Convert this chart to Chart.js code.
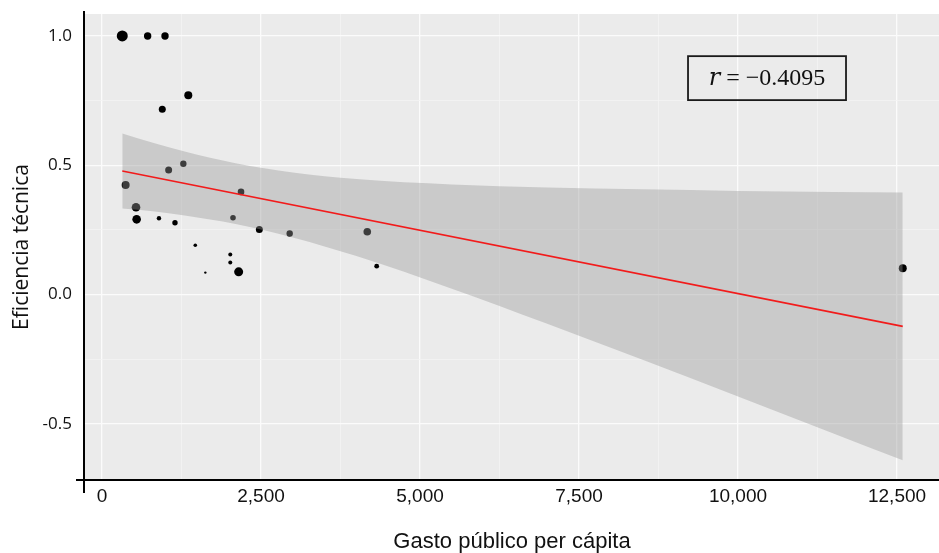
<!DOCTYPE html>
<html lang="es">
<head>
    <meta charset="UTF-8">
    <title>Eficiencia técnica vs gasto público</title>
    <script src="https://cdn.jsdelivr.net/npm/chart.js"></script>
    <style>
        html, body { margin: 0; padding: 0; background: #ffffff; overflow: hidden; }
        #wrap { width: 939px; height: 553px; }
        canvas { display: block; }
    </style>
</head>
<body>
<div id="wrap"><canvas id="eficienciaChart" width="939" height="553"></canvas></div>

<script>
    // Municipios: gasto per cápita, eficiencia técnica y tamaño del punto
    const gasto = [319, 718, 991, 1357, 948, 1279, 1048, 372, 535, 545, 896, 1148,
                   2060, 2186, 2474, 2951, 4171, 4319, 1467, 2017, 2017, 2149, 1625, 12590];
    const eficiencia = [1.000, 1.000, 1.000, 0.771, 0.717, 0.506, 0.482, 0.424, 0.338, 0.291, 0.295, 0.278,
                        0.297, 0.397, 0.252, 0.236, 0.243, 0.110, 0.191, 0.155, 0.124, 0.088, 0.085, 0.102];
    const tamano = [5.5, 3.7, 3.7, 4.0, 3.5, 3.2, 3.5, 4.0, 4.3, 4.3, 2.2, 2.7,
                    2.8, 3.3, 3.5, 3.2, 3.8, 2.4, 1.8, 2.0, 2.0, 4.5, 1.2, 4.0];

    // Recta de regresión (extremos) y banda de confianza
    const ajusteX = [319, 12590];
    const ajusteY = [0.478, -0.123];
    const bandaX = [319, 800, 1300, 2100, 3000, 4000, 5500, 7000, 8500, 10000, 11500, 12590];
    const bandaSup = [0.623, 0.587, 0.553, 0.508, 0.472, 0.447, 0.426, 0.414, 0.407, 0.401, 0.397, 0.395];
    const bandaInf = [0.333, 0.322, 0.306, 0.273, 0.221, 0.149, 0.023, -0.113, -0.252, -0.394, -0.537, -0.641];

    const etiquetaR = 'r = \u22120.4095';

    const xTicks = [0, 2500, 5000, 7500, 10000, 12500];
    const yTicks = [-0.5, 0.0, 0.5, 1.0];

    const toXY = (xs, ys) => xs.map((x, i) => ({ x: x, y: ys[i] }));

    const isMajor = (v, step) => Math.abs(v / step - Math.round(v / step)) < 1e-6;

    // fondo gris del panel
    const panelBg = {
        id: 'panelBg',
        beforeDraw(chart) {
            const { ctx, chartArea: a } = chart;
            ctx.save();
            ctx.fillStyle = '#ebebeb';
            ctx.fillRect(a.left, a.top, a.right - a.left, a.bottom - a.top);
            ctx.restore();
        }
    };

    // ejes negros cruzados y recuadro con el coeficiente
    const extras = {
        id: 'extras',
        afterDraw(chart) {
            const { ctx, chartArea: a, scales } = chart;
            ctx.save();
            ctx.strokeStyle = '#000';
            ctx.lineWidth = 2;
            ctx.beginPath();
            ctx.moveTo(a.left - 1, a.top - 3);
            ctx.lineTo(a.left - 1, a.bottom + 13);
            ctx.moveTo(a.left - 9, a.bottom);
            ctx.lineTo(a.right, a.bottom);
            ctx.stroke();

            const x0 = scales.x.getPixelForValue(9214);
            const x1 = scales.x.getPixelForValue(11698);
            const y0 = scales.y.getPixelForValue(0.922);
            const y1 = scales.y.getPixelForValue(0.752);
            ctx.lineWidth = 1.8;
            ctx.strokeStyle = '#1a1a1a';
            ctx.strokeRect(x0, y0, x1 - x0, y1 - y0);

            const partes = etiquetaR.split(' ');
            ctx.fillStyle = '#111';
            ctx.textBaseline = 'middle';
            const fItal = 'italic 24px "DejaVu Serif", "Liberation Serif", serif';
            const fReg = '24px "Liberation Serif", "DejaVu Serif", serif';
            ctx.font = fItal;
            const wR = ctx.measureText(partes[0]).width;
            ctx.font = fReg;
            const resto = ' ' + partes.slice(1).join(' ');
            const wResto = ctx.measureText(resto).width;
            let tx = (x0 + x1) / 2 - (wR + wResto) / 2;
            const ty = (y0 + y1) / 2 + 1;
            ctx.font = fItal;
            ctx.fillText(partes[0], tx, ty);
            ctx.font = fReg;
            ctx.fillText(resto, tx + wR, ty);
            ctx.restore();
        }
    };

    const ctx = document.getElementById('eficienciaChart').getContext('2d');
    const eficienciaChart = new Chart(ctx, {
        type: 'scatter',
        data: {
            datasets: [
                {
                    type: 'line',
                    label: 'ajuste',
                    data: toXY(ajusteX, ajusteY),
                    borderColor: '#f21b1b',
                    borderWidth: 1.6,
                    pointRadius: 0,
                    fill: false,
                    order: 0
                },
                {
                    type: 'line',
                    label: 'banda superior',
                    data: toXY(bandaX, bandaSup),
                    borderWidth: 0,
                    pointRadius: 0,
                    cubicInterpolationMode: 'monotone',
                    backgroundColor: 'rgba(153, 153, 153, 0.4)',
                    fill: '+1',
                    order: 1
                },
                {
                    type: 'line',
                    label: 'banda inferior',
                    data: toXY(bandaX, bandaInf),
                    borderWidth: 0,
                    pointRadius: 0,
                    cubicInterpolationMode: 'monotone',
                    fill: false,
                    order: 2
                },
                {
                    label: 'municipios',
                    data: toXY(gasto, eficiencia),
                    pointRadius: tamano,
                    pointBackgroundColor: '#000',
                    pointBorderWidth: 0,
                    order: 3
                }
            ]
        },
        options: {
            responsive: false,
            animation: false,
            layout: { autoPadding: false, padding: { top: 14, right: 0, bottom: 0, left: 0 } },
            plugins: {
                legend: { display: false },
                tooltip: { enabled: false }
            },
            scales: {
                x: {
                    type: 'linear',
                    min: -267,
                    max: 13160,
                    afterBuildTicks(scale) {
                        scale.ticks = [];
                        for (let v = 0; v <= 12500; v += 1250) scale.ticks.push({ value: v });
                    },
                    afterFit(scale) {
                        scale.height = 73;
                        scale.paddingLeft = 0;
                        scale.paddingRight = 0;
                    },
                    border: { display: false },
                    grid: {
                        drawTicks: false,
                        color: ctx => isMajor(ctx.tick.value, 2500) ? '#fbfbfb' : '#f4f4f4',
                        lineWidth: ctx => isMajor(ctx.tick.value, 2500) ? 1.3 : 0.8
                    },
                    ticks: {
                        padding: 5,
                        color: '#111',
                        maxRotation: 0,
                        autoSkip: false,
                        font: { family: '"Liberation Sans Narrow", "Arial Narrow", "Liberation Sans", sans-serif', size: 19 },
                        callback: v => xTicks.includes(v) ? v.toLocaleString('en-US') : ''
                    },
                    title: {
                        display: true,
                        text: 'Gasto público per cápita',
                        color: '#111',
                        padding: { top: 0, bottom: 0 },
                        font: { family: '"Liberation Sans Narrow", "Arial Narrow", "Liberation Sans", sans-serif', size: 22, lineHeight: 1 }
                    }
                },
                y: {
                    min: -0.717,
                    max: 1.085,
                    afterBuildTicks(scale) {
                        scale.ticks = [];
                        for (let v = -0.5; v <= 1.0001; v += 0.25) scale.ticks.push({ value: Math.round(v * 100) / 100 });
                    },
                    afterFit(scale) {
                        scale.width = 85;
                        scale.paddingTop = 0;
                        scale.paddingBottom = 0;
                    },
                    border: { display: false },
                    grid: {
                        drawTicks: false,
                        color: ctx => isMajor(ctx.tick.value, 0.5) ? '#fbfbfb' : '#f4f4f4',
                        lineWidth: ctx => isMajor(ctx.tick.value, 0.5) ? 1.3 : 0.8
                    },
                    ticks: {
                        padding: 13,
                        color: '#111',
                        autoSkip: false,
                        font: { family: '"Open Sans", "DejaVu Sans", sans-serif', size: 17 },
                        callback: v => yTicks.includes(v) ? v.toFixed(1) : ''
                    },
                    title: {
                        display: true,
                        text: 'Eficiencia técnica',
                        color: '#111',
                        padding: { top: 9, bottom: 0 },
                        font: { family: '"Open Sans", "DejaVu Sans", sans-serif', size: 21 }
                    }
                }
            }
        },
        plugins: [panelBg, extras]
    });
</script>
</body>
</html>
